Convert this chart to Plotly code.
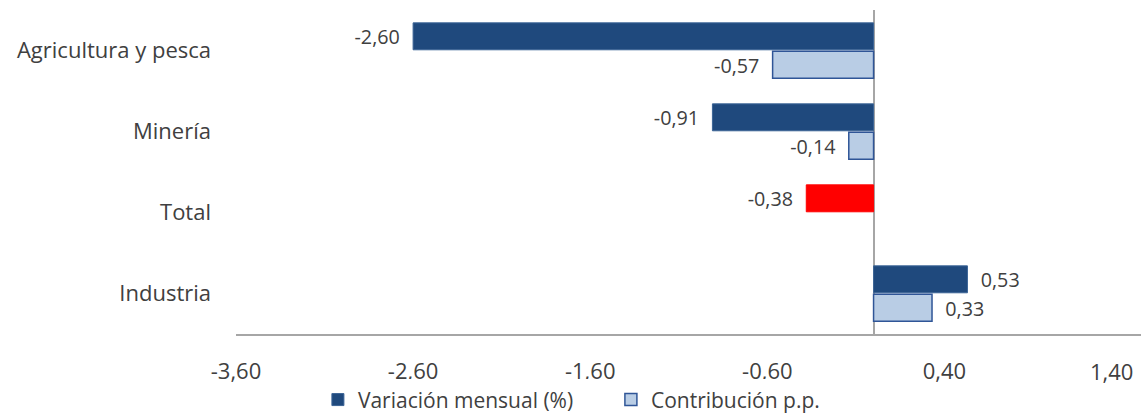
import plotly.graph_objects as go

categories = ["Agricultura y pesca", "Minería", "Total", "Industria"]
variacion = [-2.60, -0.91, -0.38, 0.53]
contribucion = [-0.57, -0.14, None, 0.33]
tick_vals = [-3.6, -2.6, -1.6, -0.6, 0.4, 1.4]

dark = "#1F497D"
light = "#B9CDE5"
red = "#FF0000"
var_colors = [red if c == "Total" else dark for c in categories]
var_lines = [red if c == "Total" else "#3B6496" for c in categories]

NB = "\u00a0\u00a0"

def fmt(v):
    return "" if v is None else f"{v:.2f}".replace(".", ",")

def lab(v):
    if v is None:
        return ""
    return (fmt(v) + NB) if v < 0 else (NB + fmt(v))

# last tick label drawn as an annotation so it can sit inside the page edge
tick_text = [fmt(v) for v in tick_vals[:-1]] + [""]

fig = go.Figure()
fig.add_trace(go.Bar(
    y=categories, x=variacion, orientation="h", name="Variación mensual (%)",
    marker=dict(color=var_colors, line=dict(color=var_lines, width=1)),
    text=[lab(v) for v in variacion], textposition="outside",
    textfont=dict(size=22, color="#404040"), cliponaxis=False,
))
fig.add_trace(go.Bar(
    y=categories, x=contribucion, orientation="h", name="Contribución p.p.",
    marker=dict(color=light, line=dict(color="#2F5597", width=1.5)),
    text=[lab(v) for v in contribucion], textposition="outside",
    textfont=dict(size=22, color="#404040"), cliponaxis=False,
))

fig.add_annotation(
    x=tick_vals[-1], xref="x", y=0, yref="paper", yanchor="top",
    xanchor="center", xshift=-10, yshift=-20, showarrow=False,
    text=fmt(tick_vals[-1]), font=dict(size=22, color="#404040"),
)

fig.update_layout(
    width=1141, height=414,
    margin=dict(l=236, r=0, t=10, b=80, autoexpand=False),
    barmode="group", bargap=0.3, bargroupgap=0.05,
    plot_bgcolor="white", paper_bgcolor="white",
    separators=",.",
    font=dict(family="Open Sans", size=22, color="#404040"),
    showlegend=True,
    legend=dict(orientation="h", x=0.0905, xanchor="left",
                yref="container", y=0.034, yanchor="middle",
                font=dict(size=21, color="#404040"), traceorder="normal",
                itemwidth=30, entrywidth=248, entrywidthmode="pixels"),
)
fig.update_xaxes(
    range=[-3.6, 1.51], tickvals=tick_vals, ticktext=tick_text,
    showgrid=False, zeroline=True, zerolinecolor="#A6A6A6", zerolinewidth=1.5,
    showline=True, linecolor="#A6A6A6", linewidth=1.5,
    ticks="", tickfont=dict(size=22, color="#404040"), ticklabelstandoff=17,
    automargin=False,
)
fig.update_yaxes(
    autorange="reversed", showgrid=False, showline=False, ticks="",
    tickfont=dict(size=22, color="#404040"), ticklabelstandoff=24,
    automargin=False,
)

fig.write_html("out.html", config={"displayModeBar": False},
               post_script="document.body.style.margin='0';")
